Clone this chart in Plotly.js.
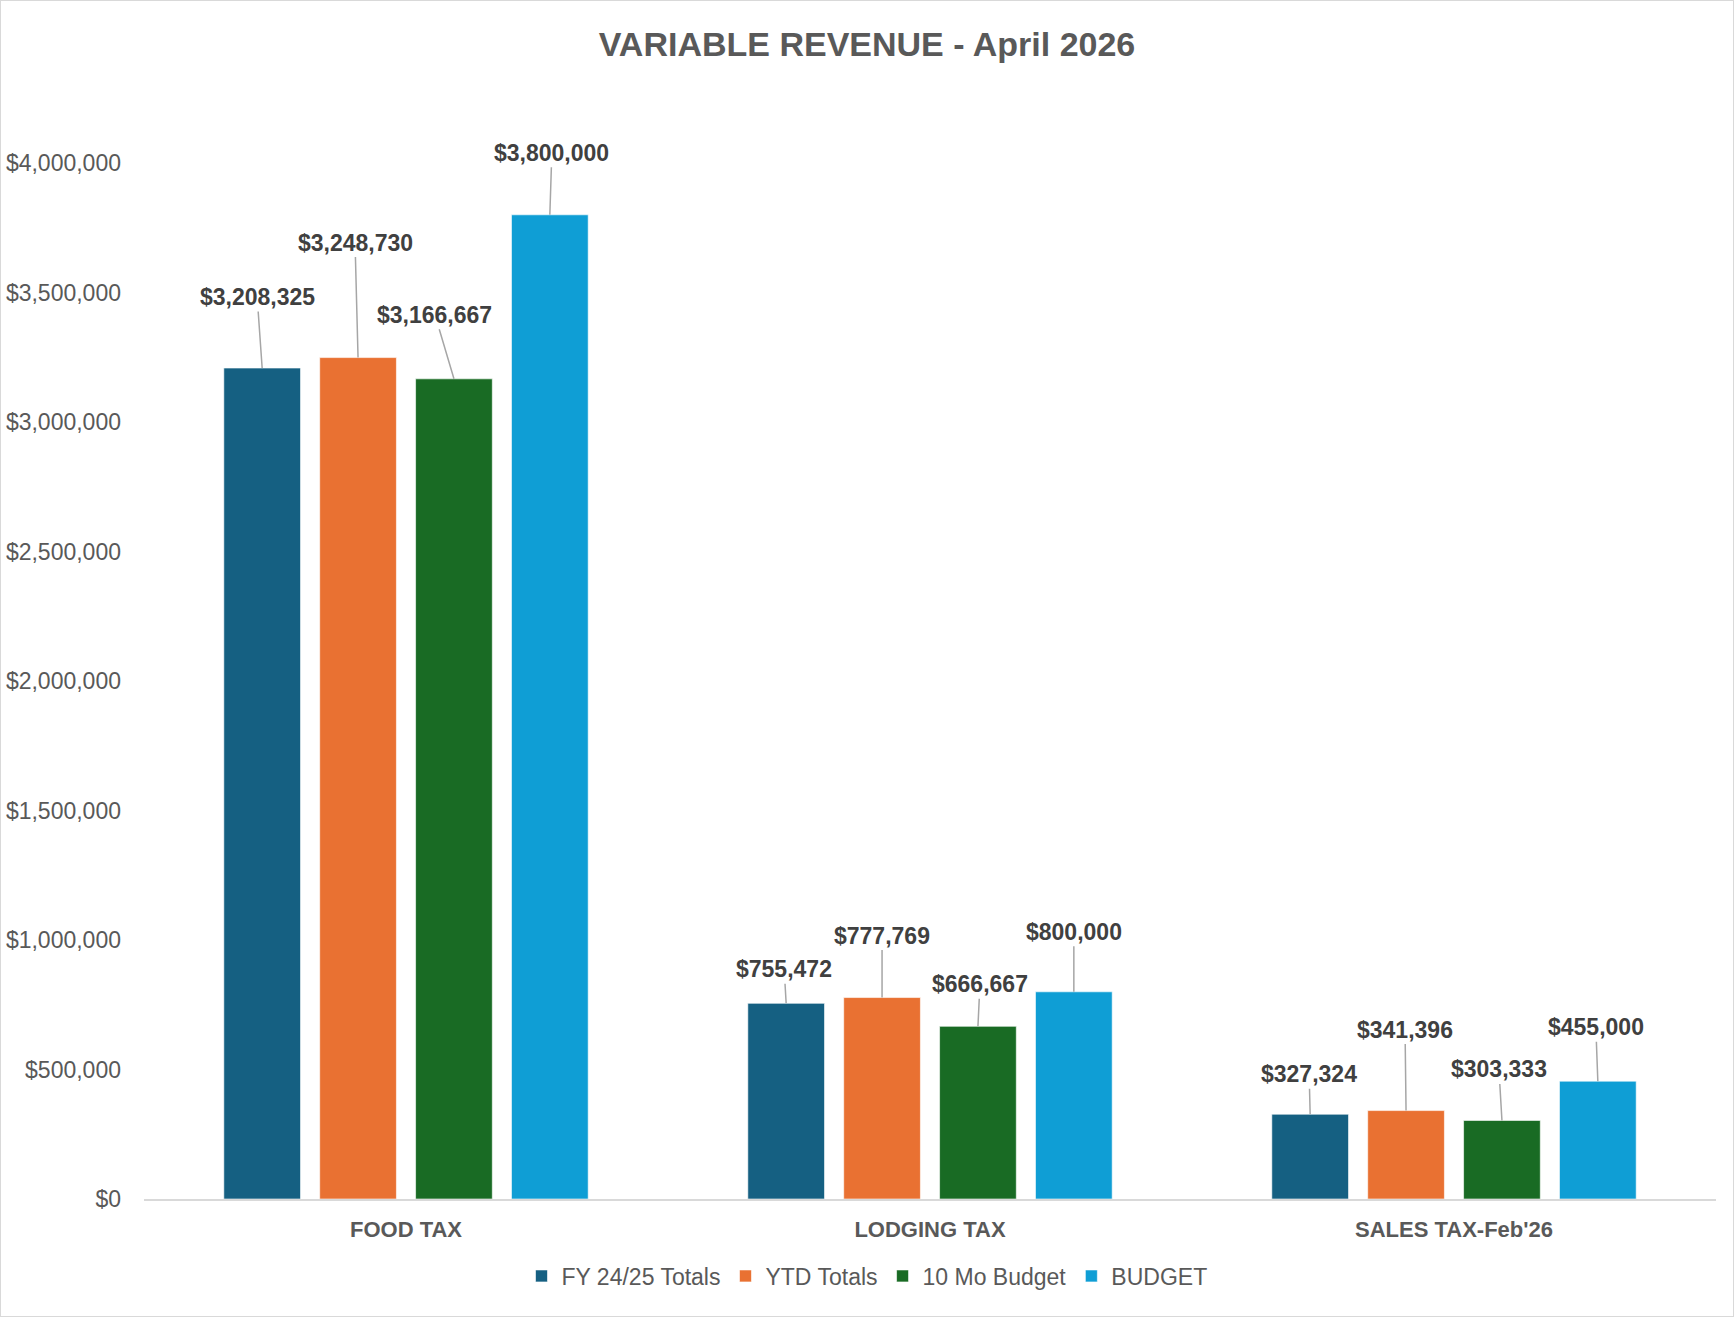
<!DOCTYPE html>
<html>
<head>
<meta charset="utf-8">
<script src="https://cdn.plot.ly/plotly-3.0.1.min.js"></script>
<style>
  html, body { margin: 0; padding: 0; background: #fff; }
  #chart { width: 1732px; height: 1315px; border: 1px solid #D9D9D9; }
</style>
</head>
<body>
<div id="chart"></div>
<script>
// ---- Data ----
const categories = ["FOOD TAX", "LODGING TAX", "SALES TAX-Feb'26"];
const seriesNames = ["FY 24/25 Totals", "YTD Totals", "10 Mo Budget", "BUDGET"];
const fy2425Totals = [3208325, 755472, 327324];
const ytdTotals = [3248730, 777769, 341396];
const tenMoBudget = [3166667, 666667, 303333];
const budget = [3800000, 800000, 455000];
const yTickVals = [0, 500000, 1000000, 1500000, 2000000, 2500000, 3000000, 3500000, 4000000];

// ---- Styles ----
const colors = ["#156082", "#E97132", "#196B24", "#0F9ED5"];
// label offsets (pixels) for leader-lined data labels, per series per category
const labelOffsets = [
  [[-5, -71], [-2, -34], [-1, -40]],
  [[-3, -115], [0, -62], [-1, -81]],
  [[-19, -64], [2, -42], [-3, -51]],
  [[2, -62], [0, -60], [-2, -54]]
];

const allSeries = [fy2425Totals, ytdTotals, tenMoBudget, budget];
const fmt = v => "$" + v.toLocaleString("en-US");
const BARGAP = 0.268, BARGROUPGAP = 0.2;
const slot = (1 - BARGAP) / allSeries.length;
const FONT = "Liberation Sans, Arial, sans-serif";

const traces = allSeries.map((vals, i) => ({
  type: "bar",
  name: seriesNames[i],
  x: categories,
  y: vals,
  marker: { color: colors[i], line: { color: "rgba(255,255,255,0.6)", width: 1 } },
  hoverinfo: "x+y+name"
}));

const annotations = [];
allSeries.forEach((vals, i) => {
  vals.forEach((v, c) => {
    annotations.push({
      x: c + (i - (allSeries.length - 1) / 2) * slot,
      y: v,
      xref: "x", yref: "y",
      text: fmt(v),
      showarrow: true,
      arrowhead: 0,
      arrowwidth: 1.5,
      arrowcolor: "#A6A6A6",
      standoff: 0,
      startstandoff: 0,
      ax: labelOffsets[i][c][0],
      ay: labelOffsets[i][c][1],
      font: { family: FONT, size: 23, color: "#404040", weight: 700 }
    });
  });
});

const layout = {
  width: 1732,
  height: 1315,
  paper_bgcolor: "#FFFFFF",
  plot_bgcolor: "#FFFFFF",
  margin: { l: 143, r: 17, t: 162, b: 117 },
  title: {
    text: "VARIABLE REVENUE - April 2026",
    font: { family: FONT, size: 34, color: "#595959", weight: 700 },
    x: 0.5, xref: "container", xanchor: "center",
    y: 1 - 43 / 1315, yref: "container", yanchor: "middle"
  },
  barmode: "group",
  bargap: BARGAP,
  bargroupgap: BARGROUPGAP,
  xaxis: {
    type: "category",
    showgrid: false,
    zeroline: false,
    showline: true,
    linecolor: "#D9D9D9",
    linewidth: 2,
    ticks: "",
    ticklabelstandoff: 10,
    tickfont: { family: FONT, size: 22, color: "#595959", weight: 700 }
  },
  yaxis: {
    range: [0, 4000000],
    tickvals: yTickVals,
    ticktext: yTickVals.map(fmt),
    showgrid: false,
    zeroline: false,
    showline: false,
    ticks: "",
    ticklabelstandoff: 22,
    tickfont: { family: FONT, size: 23, color: "#595959" }
  },
  showlegend: true,
  legend: {
    orientation: "h",
    x: 0.5, xref: "container", xanchor: "center",
    y: 40 / 1315, yref: "container", yanchor: "middle",
    font: { family: FONT, size: 23, color: "#595959" },
    itemwidth: 30,
    traceorder: "normal"
  },
  annotations: annotations
};

Plotly.newPlot("chart", traces, layout, { displayModeBar: false, responsive: false });
</script>
</body>
</html>
